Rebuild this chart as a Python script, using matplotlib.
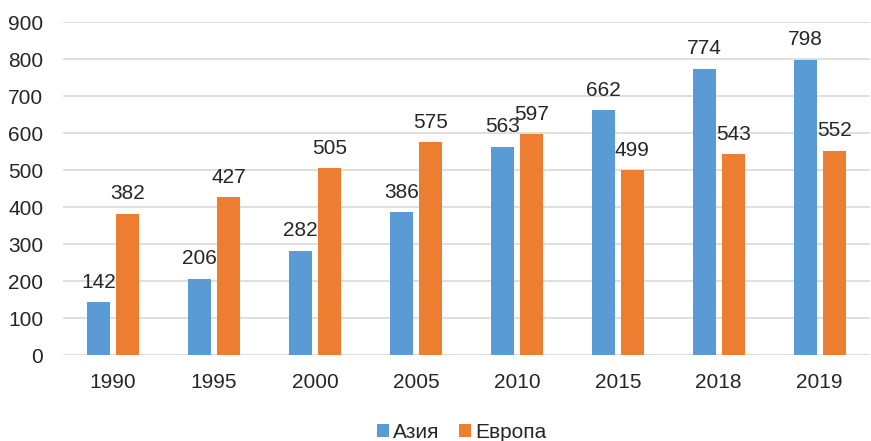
import numpy as np
import matplotlib.pyplot as plt

plt.rcParams['font.family'] = ['Liberation Sans', 'DejaVu Sans']

years = ['1990', '1995', '2000', '2005', '2010', '2015', '2018', '2019']
asia = [142, 206, 282, 386, 563, 662, 774, 798]
europe = [382, 427, 505, 575, 597, 499, 543, 552]

blue = '#5B9BD5'
orange = '#ED7D31'
text_col = '#262626'

fig = plt.figure(figsize=(8.71, 4.41), dpi=100)
ax = fig.add_axes([0.072, 0.195, 0.927, 0.755])

x = np.arange(len(years))
w = 0.228
gap = 0.06
b1 = ax.bar(x - (w + gap) / 2, asia, w, color=blue, label='Азия', zorder=3)
b2 = ax.bar(x + (w + gap) / 2, europe, w, color=orange, label='Европа', zorder=3)

for bars in (b1, b2):
    ax.bar_label(bars, padding=7.5, fontsize=15, color=text_col)

ax.set_ylim(0, 900)
ax.set_yticks(range(0, 901, 100))
ax.set_xlim(-0.5, len(years) - 0.5)
ax.set_xticks(x)
ax.set_xticklabels(years)
ax.tick_params(axis='both', length=0, labelsize=15, colors=text_col)
ax.tick_params(axis='x', pad=13)
ax.tick_params(axis='y', pad=14)
ax.grid(axis='y', color='#D9D9D9', linewidth=1.2, zorder=0)
for s in ax.spines.values():
    s.set_visible(False)

fig.legend(handles=[b1, b2], loc='lower center', bbox_to_anchor=(0.53, -0.045),
           ncol=2, frameon=False, fontsize=15, handlelength=0.6, handleheight=0.6,
           handletextpad=0.2, columnspacing=0.9, labelcolor=text_col)

fig.savefig('out.png', dpi=100)
